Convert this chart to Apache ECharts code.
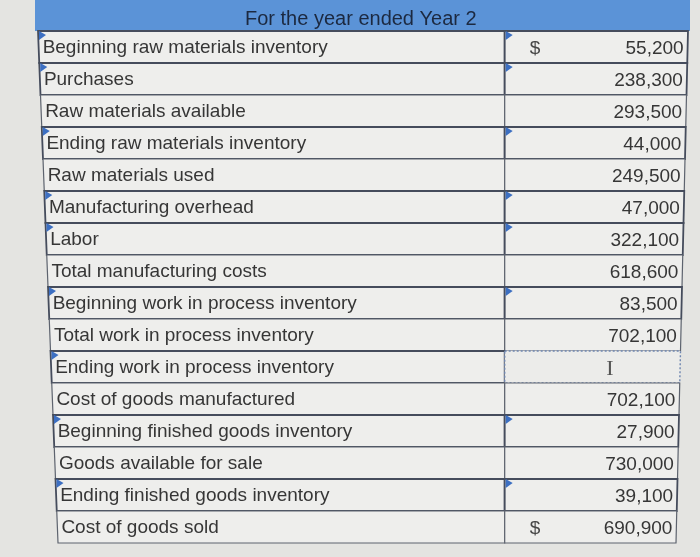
<!DOCTYPE html>
<html>
<head>
<meta charset="utf-8">
<script src="https://cdn.jsdelivr.net/npm/echarts@6/dist/echarts.min.js"></script>
<style>html,body{margin:0;padding:0;background:#e4e4e1;}#main{width:700px;height:557px;}</style>
</head>
<body>
<div id="main"></div>
<script>
const headerTitle = 'For the year ended Year 2';
const rowLabels = [
  'Beginning raw materials inventory',
  'Purchases',
  'Raw materials available',
  'Ending raw materials inventory',
  'Raw materials used',
  'Manufacturing overhead',
  'Labor',
  'Total manufacturing costs',
  'Beginning work in process inventory',
  'Total work in process inventory',
  'Ending work in process inventory',
  'Cost of goods manufactured',
  'Beginning finished goods inventory',
  'Goods available for sale',
  'Ending finished goods inventory',
  'Cost of goods sold'
];
const dollarSigns = ['$','','','','','','','','','','','','','','','$'];
const values = [55200, 238300, 293500, 44000, 249500, 47000, 322100, 618600, 83500, 702100, null, 702100, 27900, 730000, 39100, 690900];
const inputRows = [1,1,0,1,0,1,1,0,1,0,1,0,1,0,1,0];
const activeRows = [0,0,0,0,0,0,0,0,0,0,1,0,0,0,0,0];

const SPLIT = 0.718;
const fmt = v => v == null ? '' : v.toLocaleString('en-US');
const FONT = '19px "Liberation Sans", Arial, sans-serif';

const chart = echarts.init(document.getElementById('main'), null, {renderer: 'canvas'});

function renderItem(params, api) {
  const i = api.value(1);
  const c = api.coord([0, i]);
  const h = api.size([0, 1])[1];
  const top = c[1] - h / 2, bot = c[1] + h / 2;
  const x0 = c[0];
  const x1 = api.coord([1, i])[0];
  const xs = api.coord([SPLIT, i])[0];
  const gTop = 31, gH = 512;
  const tl = y => (y - gTop) / gH;
  const L = y => x0 + 20 * tl(y);
  const R = y => x1 - 12 * tl(y);
  const isInput = inputRows[i] === 1;
  const isActive = activeRows[i] === 1;
  const border = isInput ? '#454c5c' : '#5d636e';
  const lw = isInput ? 1.8 : 1.2;
  const children = [];
  children.push({
    type: 'polygon',
    shape: {points: [[L(top), top], [xs, top], [xs, bot], [L(bot), bot]]},
    style: {fill: '#eeeeec', stroke: border, lineWidth: lw}
  });
  children.push({
    type: 'polygon',
    shape: {points: [[xs, top], [R(top), top], [R(bot), bot], [xs, bot]]},
    style: isActive
      ? {fill: '#ececea', stroke: '#6f86b0', lineWidth: 1.4, lineDash: [2, 2]}
      : {fill: '#eeeeec', stroke: border, lineWidth: lw}
  });
  if (isInput) {
    const lx = L(top) + 1;
    children.push({type: 'polygon', shape: {points: [[lx, top], [lx + 7, top + 4], [lx, top + 9]]}, style: {fill: '#3c6fc2'}});
    if (!isActive) {
      children.push({type: 'polygon', shape: {points: [[xs + 1, top], [xs + 8, top + 4], [xs + 1, top + 9]]}, style: {fill: '#3c6fc2'}});
    }
  }
  children.push({
    type: 'text',
    style: {x: L(c[1]) + 4, y: c[1] + 1, text: api.value(2), fill: '#363636', font: FONT, textAlign: 'left', textVerticalAlign: 'middle'}
  });
  children.push({
    type: 'text',
    style: {x: 535, y: c[1] + 2, text: dollarSigns[i], fill: '#474747', font: FONT, textAlign: 'center', textVerticalAlign: 'middle'}
  });
  children.push({
    type: 'text',
    style: {x: R(c[1]) - 4, y: c[1] + 2, text: fmt(values[i]), fill: '#363636', font: FONT, textAlign: 'right', textVerticalAlign: 'middle'}
  });
  if (isActive) {
    children.push({
      type: 'text',
      style: {x: 610, y: c[1] + 2, text: 'I', fill: '#555', font: '22px "Liberation Serif", serif', textAlign: 'center', textVerticalAlign: 'middle'}
    });
  }
  return {type: 'group', children};
}

chart.setOption({
  backgroundColor: '#e4e4e1',
  animation: false,
  title: {
    text: headerTitle,
    left: 240, top: 4,
    textStyle: {fontSize: 20, fontWeight: 'normal', color: '#1c2940', fontFamily: '"Liberation Sans", Arial, sans-serif'}
  },
  graphic: [{
    type: 'rect', z: -1,
    shape: {x: 35, y: 0, width: 655, height: 31},
    style: {fill: '#5b93d7'}
  }],
  grid: {left: 38, right: 12, top: 31, bottom: 14},
  xAxis: {type: 'value', min: 0, max: 1, show: false},
  yAxis: {type: 'category', data: rowLabels, inverse: true, show: false},
  series: [{
    type: 'custom',
    renderItem,
    data: rowLabels.map((l, i) => [0, i, l]),
    encode: {x: 0, y: 1}
  }]
});
</script>
</body>
</html>
